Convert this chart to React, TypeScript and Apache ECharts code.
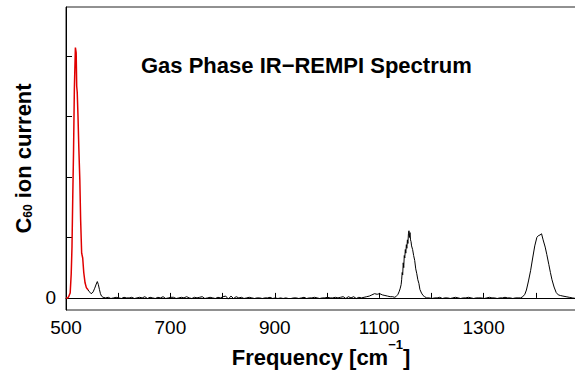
import React, { useEffect, useRef } from "react";
import * as echarts from "echarts";

// Red highlighted band (cm^-1, ion current)
const redFreq = [500, 503, 505, 508, 510, 511.5, 513, 514.5, 516, 518, 519.5, 520.5, 521.5, 523, 524.5, 526.5, 528, 530, 532, 534, 536.5, 539, 542.5];
const redVal = [0.0, 0.0, 0.02, 0.08, 0.4, 0.85, 1.7, 2.45, 3.45, 4.14, 4.05, 3.5, 3.4, 3.0, 2.5, 1.95, 1.3, 0.74, 0.66, 0.42, 0.25, 0.17, 0.13];

// Black trace, low-frequency tail after the red band
const tailFreq = [542.5, 545, 548, 550, 552, 555, 558, 560, 562, 564, 566, 568, 571];
const tailVal = [0.13, 0.1, 0.07, 0.08, 0.1, 0.16, 0.23, 0.27, 0.22, 0.14, 0.07, 0.03, 0.01];

// Baseline segment 1: starts at 576 cm^-1, sampled every 5 cm^-1
const base1Start = 576;
const base1Step = 5;
const base1Val = [
  0.0, 0.01, -0.01, 0.0, 0.01, 0.0, -0.01, 0.01, 0.0,
  0.0, 0.01, -0.01, 0.0, 0.01, 0.0, 0.02, -0.01, 0.01, 0.0,
  -0.01, 0.01, 0.0, 0.02, -0.01, 0.0, 0.01, 0.01, -0.01, 0.0,
  0.01, 0.0, 0.02, 0.0, -0.01, 0.01, 0.0, 0.01, 0.02, -0.01,
  0.0, 0.01, 0.0, -0.01, 0.01, 0.0, 0.02, 0.03, -0.02, 0.03,
  -0.01, 0.02, 0.0, 0.01, -0.01, 0.0, 0.01, 0.0, -0.01, 0.0,
  0.0, -0.01, 0.0, 0.0, 0.01, -0.01, 0.0, -0.01, 0.0, -0.01,
  0.0, -0.01, -0.01, 0.0, 0.0, -0.01, 0.0, 0.01, -0.01, 0.0,
  0.0, 0.01, 0.0, -0.01, 0.0, 0.0, 0.01, 0.0, 0.0, 0.01,
  0.0, 0.01, 0.02, -0.01, 0.02, 0.0, 0.02, -0.01, 0.01, 0.0,
  0.01, 0.02, 0.03, 0.05, 0.07, 0.06, 0.07, 0.05, 0.04, 0.03,
  0.02, 0.02
];

// Peak near 1157 cm^-1
const peak1Freq = [1129, 1132, 1134, 1136, 1138, 1140, 1142, 1143, 1144, 1145, 1146, 1147, 1148, 1149, 1150, 1151, 1152, 1153, 1154, 1155, 1156, 1157, 1158, 1159, 1160, 1161, 1162, 1164, 1166, 1168, 1170, 1172, 1174, 1176, 1178, 1181, 1184, 1187, 1191];
const peak1Val = [0.01, 0.02, 0.04, 0.06, 0.1, 0.15, 0.22, 0.3, 0.42, 0.38, 0.58, 0.5, 0.7, 0.66, 0.8, 0.74, 0.88, 0.82, 0.96, 0.9, 1.06, 1.11, 1.0, 1.08, 0.96, 0.93, 0.86, 0.8, 0.7, 0.62, 0.48, 0.4, 0.3, 0.24, 0.14, 0.08, 0.04, 0.02, 0.0];

// Baseline segment 2: starts at 1196 cm^-1, sampled every 5 cm^-1
const base2Start = 1196;
const base2Step = 5;
const base2Val = [
  0.0, -0.01, 0.0, 0.0, 0.01, -0.01, 0.0, 0.0, -0.01, 0.0,
  0.01, 0.0, -0.01, 0.0, 0.0, 0.01, 0.0, -0.01, 0.0, 0.0,
  0.0, -0.01, 0.0, 0.01, 0.0, 0.0, -0.01, 0.0, 0.0, 0.01,
  0.0, 0.0, -0.01, 0.0, 0.0
];

// Peak near 1408 cm^-1
const peak2Freq = [1371, 1375, 1379, 1382, 1386, 1390, 1394, 1398, 1402, 1405, 1408, 1411, 1414, 1418, 1421, 1425, 1428, 1431, 1435, 1439, 1443, 1447, 1452, 1458, 1464, 1470, 1477];
const peak2Val = [0.0, 0.02, 0.06, 0.13, 0.28, 0.45, 0.66, 0.86, 1.0, 1.03, 1.04, 1.06, 0.96, 0.84, 0.72, 0.55, 0.42, 0.3, 0.18, 0.09, 0.05, 0.04, 0.03, 0.02, 0.01, 0.0, -0.01];

const xTicks = [500, 600, 700, 800, 900, 1000, 1100, 1200, 1300, 1400];
const xLabels = [500, 700, 900, 1100, 1300];
const yTicks = [0, 1, 2, 3, 4];
const yLabels = [0];

const FONT = "'Liberation Sans', Arial, Helvetica, sans-serif";

export default function App() {
  const ref = useRef<HTMLDivElement>(null);
  useEffect(() => {
    if (!ref.current) return;
    const chart = echarts.init(ref.current, undefined, { renderer: "svg" });

    const red = redFreq.map((f, i) => [f, redVal[i]]);
    const black: number[][] = [];
    tailFreq.forEach((f, i) => black.push([f, tailVal[i]]));
    base1Val.forEach((v, i) => black.push([base1Start + i * base1Step, v]));
    peak1Freq.forEach((f, i) => black.push([f, peak1Val[i]]));
    base2Val.forEach((v, i) => black.push([base2Start + i * base2Step, v]));
    peak2Freq.forEach((f, i) => black.push([f, peak2Val[i]]));

    chart.setOption({
      animation: false,
      backgroundColor: "#fff",
      title: {
        text: "Gas Phase IR\u2212REMPI Spectrum",
        left: 141,
        top: 54,
        padding: 0,
        textStyle: { fontFamily: FONT, fontSize: 22, fontWeight: "bold", color: "#000" },
      },
      grid: {
        left: 66,
        top: 7,
        right: -1,
        bottom: 62,
        containLabel: false,
        outerBoundsMode: "none",
        show: true,
        borderColor: "#222",
        borderWidth: 1,
        backgroundColor: "transparent",
      },
      xAxis: {
        type: "value",
        min: 500,
        max: 1477,
        splitLine: { show: false },
        axisLine: { show: true, lineStyle: { color: "#000", width: 1 } },
        axisTick: { show: true, inside: true, length: 5, customValues: xTicks, lineStyle: { color: "#000" } },
        axisLabel: {
          customValues: xLabels,
          formatter: (v: number) => String(v),
          margin: 8,
          fontFamily: FONT,
          fontSize: 19,
          color: "#000",
        },
        name: "{a|Frequency [cm}{s|\u22121}{a|]}",
        nameLocation: "middle",
        nameGap: 28,
        nameMoveOverlap: false,
        nameTextStyle: {
          rich: {
            a: { fontFamily: FONT, fontSize: 22, fontWeight: "bold", color: "#000", lineHeight: 38, verticalAlign: "middle" },
            s: { fontFamily: FONT, fontSize: 13, fontWeight: "bold", color: "#000", lineHeight: 14, verticalAlign: "top" },
          },
        },
      },
      yAxis: {
        type: "value",
        min: -0.2,
        max: 4.81,
        splitLine: { show: false },
        axisLine: { show: true, lineStyle: { color: "#000", width: 1 } },
        axisTick: { show: true, inside: true, length: 6, customValues: yTicks, lineStyle: { color: "#000" } },
        axisLabel: {
          customValues: yLabels,
          formatter: (v: number) => String(v),
          margin: 10,
          fontFamily: FONT,
          fontSize: 19,
          color: "#000",
        },
        name: "{a|C}{sub|60}{a| ion current}",
        nameLocation: "middle",
        nameGap: 32,
        nameMoveOverlap: false,
        nameTextStyle: {
          rich: {
            a: { fontFamily: FONT, fontSize: 22, fontWeight: "bold", color: "#000", lineHeight: 22, verticalAlign: "middle" },
            sub: { fontFamily: FONT, fontSize: 12, fontWeight: "bold", color: "#000", lineHeight: 12, verticalAlign: "bottom" },
          },
        },
      },
      series: [
        {
          type: "line",
          data: black,
          showSymbol: false,
          symbol: "none",
          lineStyle: { color: "#000", width: 1 },
          z: 2,
        },
        {
          type: "line",
          data: red,
          showSymbol: false,
          symbol: "none",
          lineStyle: { color: "#e00000", width: 1.5 },
          z: 3,
        },
      ],
    });
    return () => chart.dispose();
  }, []);
  return (
    <div
      ref={ref}
      style={{ position: "fixed", left: 0, top: 0, width: 575, height: 372, background: "#fff" }}
    />
  );
}
